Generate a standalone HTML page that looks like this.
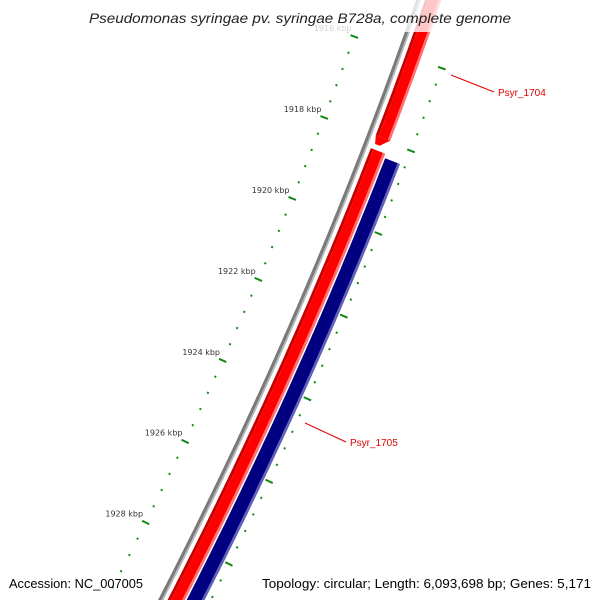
<!DOCTYPE html>
<html><head><meta charset="utf-8"><style>
html,body{margin:0;padding:0;background:#fff;overflow:hidden;}
svg{display:block;font-family:"Liberation Sans",sans-serif;}
</style></head><body>
<svg id="map" width="600" height="600" viewBox="0 0 600 600" xmlns="http://www.w3.org/2000/svg">
<g id="bands"></g>
<g id="ticks"></g>
<g id="callouts">
<line x1="451" y1="75" x2="494" y2="92" stroke="#e00000" stroke-width="1"/>
<text x="498" y="96" font-size="10" fill="#e00000">Psyr_1704</text>
<line x1="305" y1="423" x2="346" y2="442" stroke="#e00000" stroke-width="1"/>
<text x="350" y="446" font-size="10" fill="#e00000">Psyr_1705</text>
</g>
<rect x="85" y="0" width="430" height="32" fill="#fff" opacity="0.78"/>
<text x="89" y="23" font-size="14" font-style="italic" fill="#222" textLength="422" lengthAdjust="spacingAndGlyphs">Pseudomonas syringae pv. syringae B728a, complete genome</text>
<text x="9" y="588" font-size="13" fill="#000" textLength="134" lengthAdjust="spacingAndGlyphs">Accession: NC_007005</text>
<text x="262" y="588" font-size="13" fill="#000" textLength="329" lengthAdjust="spacingAndGlyphs">Topology: circular; Length: 6,093,698 bp; Genes: 5,171</text>
</svg>
<script>
const majorKbp = [1916, 1918, 1920, 1922, 1924, 1926, 1928];
const tickStepKbp = [0.4];
const features = ["Psyr_1704", "Psyr_1705"];
const featureStartY = [-30, 145];
const featureEndY = [138, 640];

const NS = "http://www.w3.org/2000/svg";
function cx(y){return 416 - 0.346*y - 0.00014*y*y;}
function dx(y){return -0.346 - 0.00028*y;}
function P(y,d){const s=dx(y);const n=Math.sqrt(1+s*s);return [cx(y)+d/n, y - s*d/n];}
function kbpToY(k){return 134 + (k-1918)*40.9;}
function band(y0,y1,d0,d1,fill){
  const pts=[];
  for(let y=y0;y<=y1;y+=4)pts.push(P(y,d0));
  pts.push(P(y1,d0));
  pts.push(P(y1,d1));
  for(let y=y1;y>=y0;y-=4)pts.push(P(y,d1));
  pts.push(P(y0,d1));
  const p=document.createElementNS(NS,"polygon");
  p.setAttribute("points",pts.map(q=>q[0].toFixed(1)+","+q[1].toFixed(1)).join(" "));
  p.setAttribute("fill",fill);
  return p;
}
const bands=document.getElementById("bands");
let g=band(-40,640,0,3.2,"#7a7a7a");


bands.appendChild(g);
g=band(-40,640,3.2,4.8,"#b8b8b8");


bands.appendChild(g);
function redBand(y0,y1,name){
  const grp=document.createElementNS(NS,"g");
  
  
  grp.appendChild(band(y0,y1,8.5,11.5,"#c80000"));
  grp.appendChild(band(y0,y1,11.5,21.5,"#ff0000"));
  grp.appendChild(band(y0,y1,21.5,24,"#ff7070"));
  bands.appendChild(grp);
  return grp;
}
const r1=redBand(featureStartY[0],featureEndY[0]-6,"gene-psyr-1704");
const a1=P(featureEndY[0]-6,8.5),a2=P(featureEndY[0]-6,24),tip=P(featureEndY[0]+2,11),a3=P(featureEndY[0]+2,16);
const arr=document.createElementNS(NS,"polygon");
arr.setAttribute("points",[a1,tip,a3,a2].map(q=>q.join(",")).join(" "));
arr.setAttribute("fill","#ff0000");


r1.appendChild(arr);
redBand(featureStartY[1],featureEndY[1],"gene-psyr-1705");
const bl=document.createElementNS(NS,"g");


bl.appendChild(band(featureStartY[1]+4,featureEndY[1],25.5,39,"#000080"));
bl.appendChild(band(featureStartY[1]+4,featureEndY[1],39,41.5,"#6060b8"));
bands.appendChild(bl);

const ticks=document.getElementById("ticks");
const step=tickStepKbp[0];
const k0=majorKbp[0],k1=majorKbp[majorKbp.length-1]+2;
for(let i=0;i<=Math.round((k1-k0)/step);i++){
  const k=k0+i*step;
  const y=kbpToY(k);
  const major=Math.abs((k-k0)/2-Math.round((k-k0)/2))<1e-6;
  const len=major?4:1;
  [-46,47].forEach(d=>{
    const a=P(y,d-len),b=P(y,d+len);
    const l=document.createElementNS(NS,"line");
    l.setAttribute("x1",a[0]);l.setAttribute("y1",a[1]);
    l.setAttribute("x2",b[0]);l.setAttribute("y2",b[1]);
    l.setAttribute("stroke","#138a13");
    l.setAttribute("stroke-width",2);
    
    
    ticks.appendChild(l);
  });
  if(majorKbp.some(m=>Math.abs(m-k)<1e-6)){
    const a=P(y,-50);
    const t=document.createElementNS(NS,"text");
    t.setAttribute("x",a[0]+1);t.setAttribute("y",a[1]-4);
    t.setAttribute("text-anchor","end");
    t.setAttribute("font-size","8");
    t.setAttribute("font-family","DejaVu Sans, sans-serif");
    t.setAttribute("fill","#333");
    t.textContent=Math.round(k)+" kbp";
    
    
    ticks.appendChild(t);
  }
}
</script>
</body></html>
